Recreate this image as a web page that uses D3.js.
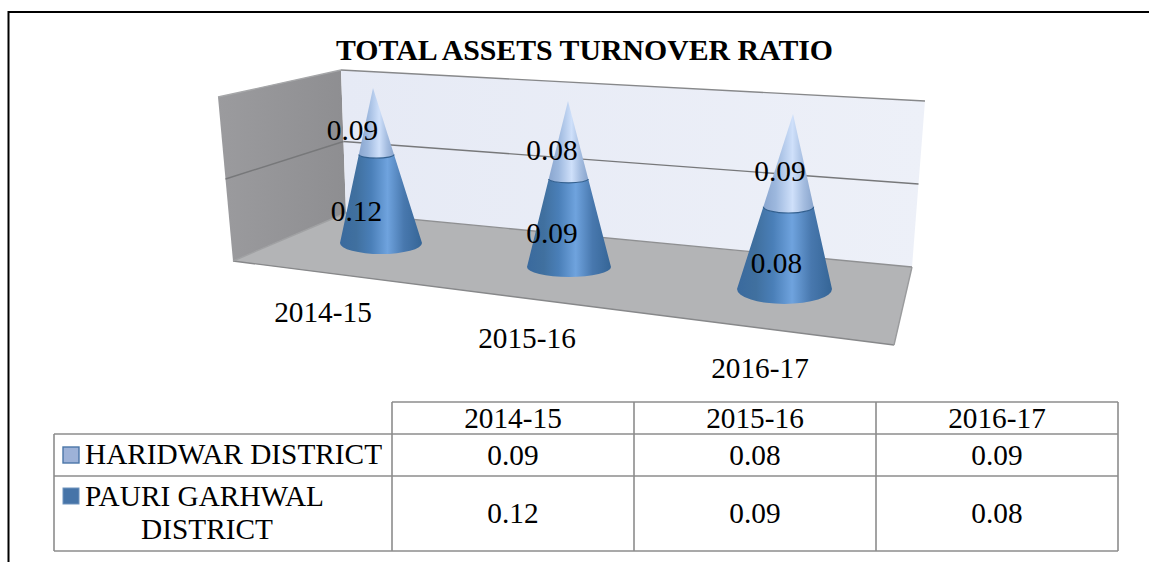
<!DOCTYPE html>
<html><head><meta charset="utf-8">
<script src="https://cdn.jsdelivr.net/npm/d3@7"></script>
<style>html,body{margin:0;padding:0;background:#fff}svg{display:block}text{font-family:"Liberation Serif",serif;fill:#000}</style>
</head><body><div id="c"></div>
<script>
const title = "TOTAL ASSETS TURNOVER RATIO";
const categories = ["2014-15","2015-16","2016-17"];
const haridwar = [0.09,0.08,0.09];
const pauri = [0.12,0.09,0.08];
const seriesNames = ["HARIDWAR DISTRICT","PAURI GARHWAL DISTRICT"];
const gridTicks = [0.5];

const W=1149,H=562;
const svg=d3.select("#c").append("svg").attr("width",W).attr("height",H);
const defs=svg.append("defs");
function grad(id,stops){
  const g=defs.append("linearGradient").attr("id",id).attr("x1",0).attr("y1",0).attr("x2",1).attr("y2",0);
  stops.forEach(s=>g.append("stop").attr("offset",s[0]).attr("stop-color",s[1]));
}
grad("gLow",[[0,"#3a6a9e"],[.2,"#40709f"],[.38,"#4a7fb8"],[.58,"#6fa3de"],[.78,"#4878ae"],[1,"#356596"]]);
grad("gUp",[[0,"#8aa6cf"],[.25,"#9db8de"],[.58,"#cfe0fa"],[.8,"#a5bde0"],[1,"#88a4cc"]]);
grad("gLeft",[[0,"#9b9b9e"],[1,"#8e8e91"]]);
grad("gBack",[[0,"#e6eaf5"],[1,"#edf0f8"]]);

// frame
svg.append("path").attr("d",`M8.5,${H}V12H${W}`).attr("fill","none").attr("stroke","#000").attr("stroke-width",2);

// 3D box: corners of the chart walls
const BLT=[341,70],BLB=[346,213],BRT=[925,101],BRB=[912,267],FLT=[218,97],FLB=[233,261],FRB=[894,345];
const poly=p=>"M"+p.map(q=>q.join(",")).join("L")+"Z";
svg.append("path").attr("d",poly([FLT,BLT,BLB,FLB])).attr("fill","url(#gLeft)");
svg.append("path").attr("d",poly([BLT,BRT,BRB,BLB])).attr("fill","url(#gBack)");
svg.append("path").attr("d",poly([BLB,BRB,FRB,FLB])).attr("fill","#b3b4b6");
const edge=(a,b,c)=>svg.append("line").attr("x1",a[0]).attr("y1",a[1]).attr("x2",b[0]).attr("y2",b[1]).attr("stroke",c||"#87888a").attr("stroke-width",1.4);
edge(BLT,BRT);edge(FLB,FRB);edge(FRB,BRB,"#9a9b9d");edge(FLB,BLB,"#a0a1a3");edge(BLB,BRB,"#8f9092");
edge(FLT,BLT,"#a6a7a9");
const lerp=(a,b,t)=>[a[0]+(b[0]-a[0])*t,a[1]+(b[1]-a[1])*t];
gridTicks.forEach(t=>{
  edge(lerp(FLB,FLT,t),lerp(BLB,BLT,t),"#77787a");
  edge(lerp(BLB,BLT,t),lerp(BRB,BRT,t),"#77787a");
});

// 100% stacked cones
const rows=categories.map((c,i)=>({cat:c,pauri:pauri[i],haridwar:haridwar[i]}));
const stack=d3.stack().keys(["pauri","haridwar"]).offset(d3.stackOffsetExpand)(rows);
const idx=[0,1,2];
const baseX=d3.scaleLinear().domain(idx).range([381,569,784.5]);
const baseY=d3.scaleLinear().domain(idx).range([243,267,289]);
const apexX=d3.scaleLinear().domain(idx).range([373,568,793]);
const apexY=d3.scaleLinear().domain(idx).range([88,101,114]);
const radX=d3.scaleLinear().domain(idx).range([41,42,47.5]);
const radY=d3.scaleLinear().domain(idx).range([11,10,15]);
const pt=(i,t)=>({x:baseX(i)+(apexX(i)-baseX(i))*t,y:baseY(i)+(apexY(i)-baseY(i))*t,
          rx:radX(i)*(1-t),ry:radY(i)*(1-t)*.8});
categories.forEach((c,i)=>{
  const b=pt(i,0); b.ry=radY(i);
  const t=stack[0][i][1], j=pt(i,t), a=pt(i,1);
  const front=p=>`A${p.rx},${p.ry} 0 0 0 ${p.x+p.rx},${p.y}`;
  const back=p=>`A${p.rx},${p.ry} 0 0 1 ${p.x-p.rx},${p.y}`;
  svg.append("path").attr("fill","url(#gLow)")
    .attr("d",`M${b.x-b.rx},${b.y}${front(b)}L${j.x+j.rx},${j.y}${back(j)}Z`);
  svg.append("path").attr("fill","url(#gUp)")
    .attr("d",`M${a.x},${a.y}L${j.x-j.rx},${j.y}${front(j)}Z`);
  svg.append("path").attr("fill","none").attr("stroke","#33608f").attr("stroke-width",1.2)
    .attr("d",`M${j.x-j.rx},${j.y}${front(j)}`);
});

// data labels
const labelFont=29.3;
const lblX=d3.scaleOrdinal().domain(categories).range([[356.5,352.5],[552,552],[776.5,780]]);
const lblY=d3.scaleOrdinal().domain(categories).range([[211,130],[233,150],[263,171]]);
categories.forEach((c,i)=>{
  [pauri[i],haridwar[i]].forEach((v,k)=>{
    svg.append("text").attr("x",lblX(c)[k]).attr("y",lblY(c)[k]).attr("dy","0.34em")
      .attr("text-anchor","middle").attr("font-size",labelFont).text(d3.format(".2f")(v));
  });
});

// title
svg.append("text").attr("x",584.5).attr("y",60).attr("text-anchor","middle")
  .attr("font-size",29.8).attr("font-weight","bold").text(title);

// category labels
const catX=d3.scaleOrdinal().domain(categories).range([323,527,760]);
const catY=d3.scaleOrdinal().domain(categories).range([312,338,368]);
categories.forEach(c=>svg.append("text").attr("x",catX(c)).attr("y",catY(c)).attr("dy","0.34em")
  .attr("text-anchor","middle").attr("font-size",labelFont).text(c));

// data table
const colX=d3.scaleBand().domain(categories).range([392,1118]);
const rowY=[402,434,476,551];
const gc="#8c8c8c";
const tl=(x1,y1,x2,y2)=>svg.append("line").attr("x1",x1).attr("y1",y1).attr("x2",x2).attr("y2",y2).attr("stroke",gc).attr("stroke-width",1.6);
tl(392,rowY[0],1118,rowY[0]);
tl(54,rowY[1],1118,rowY[1]);tl(54,rowY[2],1118,rowY[2]);tl(54,rowY[3],1118,rowY[3]);
tl(54,rowY[1],54,rowY[3]);
categories.forEach(c=>tl(colX(c),rowY[0],colX(c),rowY[3]));
tl(1118,rowY[0],1118,rowY[3]);
const cell=(x,y,s,anchor)=>svg.append("text").attr("x",x).attr("y",y).attr("dy","0.34em")
  .attr("text-anchor",anchor||"middle").attr("font-size",labelFont).text(s);
categories.forEach((c,i)=>{
  const cx=colX(c)+colX.bandwidth()/2;
  cell(cx,418.5,c);
  cell(cx,455,d3.format(".2f")(haridwar[i]));
  cell(cx,513,d3.format(".2f")(pauri[i]));
});
// legend keys
svg.append("rect").attr("x",63).attr("y",447).attr("width",16).attr("height",16).attr("fill","#9db2d8").attr("stroke","#4a76a8").attr("stroke-width",1.4);
svg.append("rect").attr("x",63).attr("y",488).attr("width",16).attr("height",16).attr("fill","#4674a8").attr("stroke","#6f93bd").attr("stroke-width",1);
cell(85,454,seriesNames[0],"start");
const parts=seriesNames[1].split(" ");
cell(85,496,parts.slice(0,2).join(" "),"start");
cell(207,529,parts[2]);
</script></body></html>
